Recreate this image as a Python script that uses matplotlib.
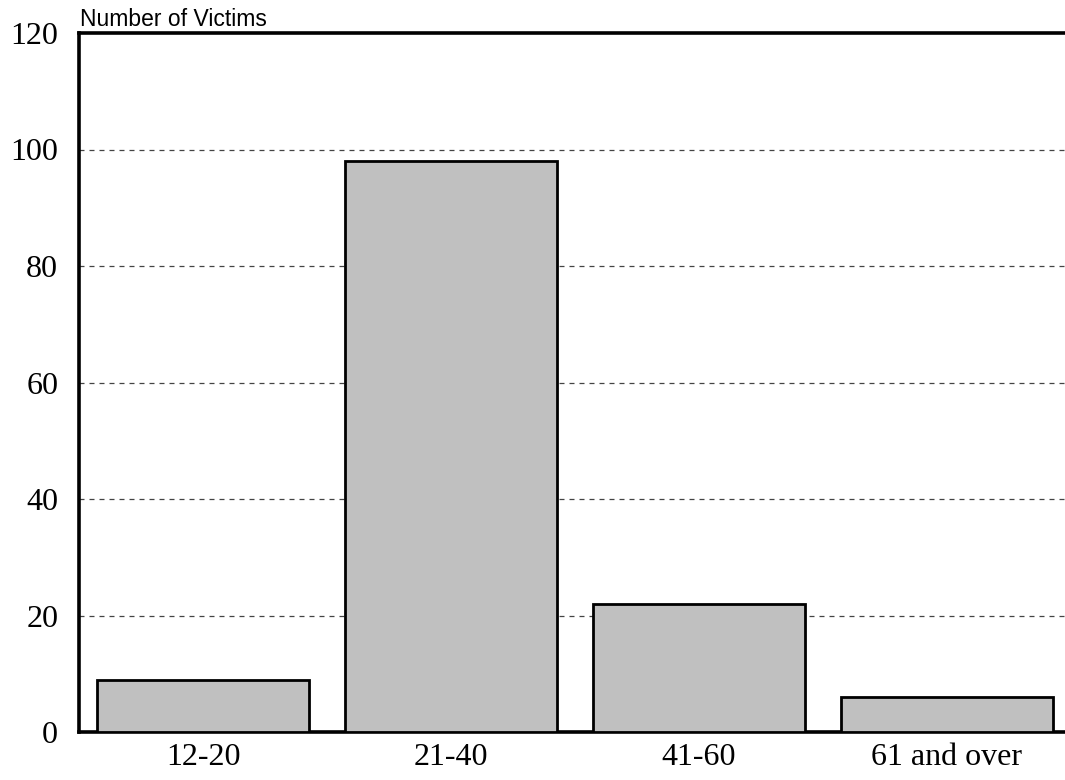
import matplotlib.pyplot as plt

categories = ['12-20', '21-40', '41-60', '61 and over']
victims = [9, 98, 22, 6]
y_ticks = [0, 20, 40, 60, 80, 100, 120]

fig = plt.figure(figsize=(10.65, 7.8), dpi=100)
ax = fig.add_axes([0.0742, 0.0615, 0.9258, 0.8962])

x = list(range(len(categories)))
ax.bar(x, victims, width=0.855, color='#c0c0c0', edgecolor='black', linewidth=2.0, zorder=3)

ax.set_xlim(-0.5, 3.476)
ax.set_ylim(0, 120)
ax.set_yticks(y_ticks)
ax.set_xticks(x)
ax.set_xticklabels(categories)
ax.tick_params(length=0, labelsize=23, pad=8)
for lab in ax.get_xticklabels() + ax.get_yticklabels():
    lab.set_family('Liberation Serif')
ax.tick_params(axis='y', pad=15)

for y in y_ticks[1:-1]:
    ax.axhline(y, color='#444444', linestyle=(0, (4, 4)), linewidth=0.9, zorder=1)

for s in ['left', 'bottom', 'top']:
    ax.spines[s].set_linewidth(2.6)
ax.spines['right'].set_visible(False)

ax.text(0.001, 1.003, 'Number of Victims', transform=ax.transAxes,
        family='Liberation Sans', fontsize=16.5, ha='left', va='bottom')

plt.savefig('out.png', dpi=100)
